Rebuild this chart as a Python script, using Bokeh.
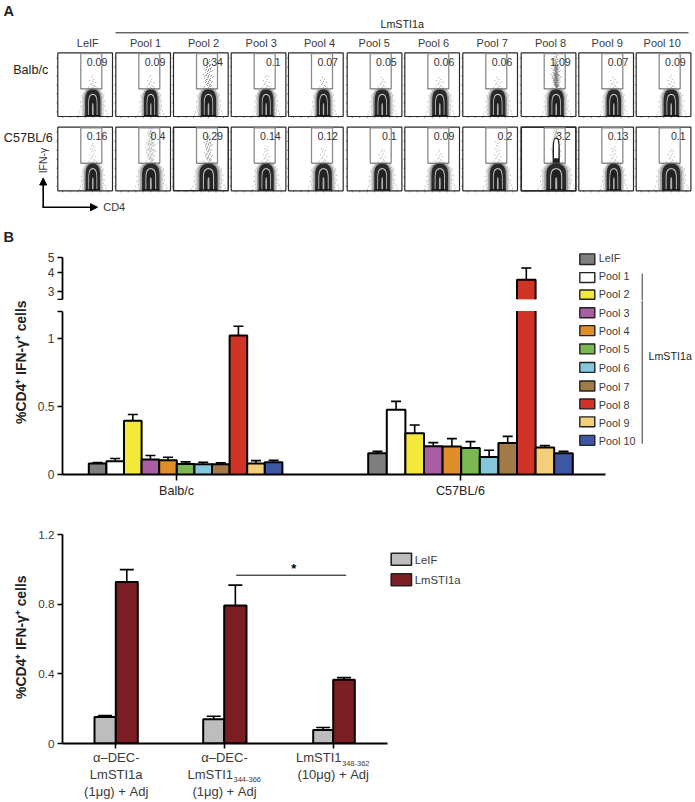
from bokeh.plotting import figure
from bokeh.layouts import column, row
from bokeh.models import (Range1d, Label, FixedTicker, Arrow, NormalHead)
from bokeh.embed import file_html
from bokeh.resources import INLINE

FONT = "Liberation Sans"
INK = "#3a3a3a"

# ---------- data ----------
pool_labels = ["LeIF"] + [f"Pool {i}" for i in range(1, 11)]
flow_balb = ["0.09", "0.09", "0.34", "0.1", "0.07", "0.05", "0.06", "0.06", "1.09", "0.07", "0.09"]
flow_c57 = ["0.16", "0.4", "0.29", "0.14", "0.12", "0.1", "0.09", "0.2", "3.2", "0.13", "0.1"]
contour_width_balb = [1.0, 0.9, 1.0, 0.95, 0.9, 1.0, 1.0, 1.0, 1.0, 0.95, 1.0]
contour_width_c57 = [0.95, 1.15, 1.2, 1.0, 1.1, 1.05, 1.1, 1.05, 1.3, 0.95, 1.2]

bar_colors = ["#7f7f7f", "#ffffff", "#f3e93a", "#a95da3", "#e08e2b", "#7ab851",
              "#83c8dc", "#a17a45", "#cf3427", "#f3cf7a", "#3f56a4"]
balb_mean = [0.08, 0.098, 0.395, 0.11, 0.105, 0.078, 0.076, 0.076, 1.02, 0.08, 0.09]
balb_err = [0.088, 0.117, 0.44, 0.14, 0.127, 0.093, 0.09, 0.085, 1.088, 0.102, 0.105]
c57_mean = [0.156, 0.476, 0.302, 0.207, 0.205, 0.195, 0.129, 0.232, 3.57, 0.198, 0.156]
c57_err = [0.17, 0.537, 0.363, 0.234, 0.263, 0.241, 0.178, 0.28, 4.27, 0.212, 0.17]

c_leif = [0.153, 0.14, 0.077]
c_leif_err = [0.161, 0.157, 0.092]
c_lm = [0.928, 0.794, 0.367]
c_lm_err = [1.0, 0.911, 0.379]
c_colors = ["#bdbdbd", "#7b1e23"]
c_series = ["LeIF", "LmSTI1a"]

# events above the main population (dx from centre, dy above the contour top)
speck = [(0, 2), (1, 4), (-1, 6), (2, 3), (-2, 5), (0, 8), (1, 10), (-1, 12), (3, 7), (-3, 9),
         (0, 14), (2, 13), (-2, 15), (1, 17), (-1, 18), (0, 20), (2, 21), (-2, 22), (3, 18), (-3, 19),
         (1, 24), (-1, 25), (0, 27), (4, 12), (-4, 13), (2, 28), (-2, 29), (1, 30), (-1, 31), (0, 33)]
# events beside the main population (dx, height above the floor)
flank = [(-10, 2), (-11, 6), (-10, 10), (-12, 14), (-10, 18), (-9, 22), (-13, 4), (-11, 20),
         (10, 3), (11, 7), (10, 11), (12, 15), (10, 19), (9, 23), (13, 5), (11, 21),
         (-12, 9), (12, 10), (-14, 1), (14, 2), (-7, 25), (7, 26), (-4, 29), (4, 28)]
arch_x = [1, 1, 1, 0.97, 0.88, 0.72, 0.5, 0.25, 0]
arch_y = [0, 0.4, 0.6, 0.72, 0.83, 0.92, 0.97, 1, 1]

ORIGIN = {}


def txt(p, x, y, s, size, color=INK, align="left", bold=False, angle=0):
    ox, oy = ORIGIN[p.id]
    p.add_layout(Label(x=x - ox, y=y - oy, x_units="canvas", y_units="canvas", text=s, text_font=FONT,
                       text_font_size=f"{size}px", text_color=color,
                       text_align=align, text_baseline="middle", angle=angle, angle_units="deg",
                       text_font_style="bold" if bold else "normal"))


def plain(width, height, x0, y0):
    p = figure(width=width, height=height, x_range=Range1d(x0, x0 + width), y_range=Range1d(y0 + height, y0),
               x_axis_type=None, y_axis_type=None, toolbar_location=None, output_backend="svg", min_border_left=0,
               min_border_right=0, min_border_top=0, min_border_bottom=0, outline_line_color=None)
    p.grid.visible = False
    ORIGIN[p.id] = (x0, y0)
    return p


# ---------- panel A ----------
A = plain(695, 225, 0, 0)
panel_left = [57.3, 115.3, 173, 230.7, 288, 346.7, 404.3, 462.3, 520.7, 578.3, 635.7]
label_cx = [87.3, 145, 203, 260.7, 319, 373.7, 433, 491.7, 550, 606.7, 661.7]
PW = 54.7


def arch(cx, floor, hw, h):
    xs = [cx - hw * a for a in arch_x] + [cx + hw * a for a in reversed(arch_x)]
    ys = [floor - h * b for b in arch_y] + [floor - h * b for b in reversed(arch_y)]
    return xs, ys


def draw_flow(top, values, widths, border_w):
    bottom = top + 63.6
    for i, x0 in enumerate(panel_left):
        cx = x0 + 35
        floor = bottom - 0.5
        w = widths[i]
        val = float(values[i])
        # tiny axis ticks
        tx = [x0 + 5 + 7.5 * k for k in range(7)]
        A.segment(tx, [bottom] * 7, tx, [bottom + 1.5] * 7, line_color="#555", line_width=0.7)
        ty = [top + 5 + 9 * k for k in range(7)]
        A.segment([x0 - 1.5] * 7, ty, [x0] * 7, ty, line_color="#555", line_width=0.7)
        # scatter
        n = min(len(speck), int(round(val * 60)) + 6)
        pts = speck[:n]
        if val > 0.25:
            pts = pts + [(dx + 1, dy + 1) for dx, dy in pts] + [(dx - 1, dy + 2) for dx, dy in pts]
        if val > 1:
            pts = pts + [(dx * 0.7, dy * 0.8) for dx, dy in pts] + [(dx * 0.4, dy * 0.7) for dx, dy in pts]
        ctop = floor - 26.5
        A.scatter([cx + dx for dx, _ in pts], [ctop - dy for _, dy in pts], size=1, marker="square",
                  color="#777777", alpha=0.65, line_color=None)
        A.scatter([cx + dx * w for dx, _ in flank], [floor - dy for _, dy in flank], size=1, marker="square",
                  color="#777777", alpha=0.7, line_color=None)
        # contours
        for hw, h, col, al in [(11, 28, "#c4c4c4", 0.6), (9.2, 27.5, "#7a7a7a", 0.6), (7.6, 26.5, "#2a2a2a", 1),
                               (4.6, 22, "#d8d8d8", 1), (3.9, 21, "#222222", 1), (0.8, 13, "#b0b0b0", 1)]:
            xs, ys = arch(cx, floor, hw * w, h)
            A.patch(xs, ys, fill_color=col, fill_alpha=al, line_color=None)
        A.quad(left=[cx - 7.6 * w], right=[cx + 7.6 * w], top=[floor - 1], bottom=[floor + 0.5], fill_color="#111111",
               line_color=None)
        if val > 3:
            xs, ys = arch(cx, floor - 26, 3.6, 26.5)
            A.patch(xs, ys, fill_color="#222222", line_color=None)
            xs, ys = arch(cx, floor - 32, 2.2, 19.5)
            A.patch(xs, ys, fill_color="#ffffff", line_color=None)
        # frame
        A.quad(left=[x0], right=[x0 + PW], top=[top], bottom=[bottom], fill_color=None,
               line_color="#2a2a2a", line_width=border_w[i])
        # gate
        gl, gr, gb = x0 + 23, x0 + 44, top + 36
        A.multi_line([[gl, gl, gr, gr]], [[gb, top + 0.6, top + 0.6, gb]], line_color="#8a8a8a", line_width=1.3)
        A.line([gl, gr], [gb, gb], line_color="#555555", line_width=1)
        txt(A, x0 + 49.5, top + 9, values[i], 10.6, "#333333", "right")


draw_flow(52.4, flow_balb, contour_width_balb, [1.2] * 11)
draw_flow(126.7, flow_c57, contour_width_c57, [1.2, 1.2, 1.5, 1.2, 1.2, 1.2, 1.2, 1.2, 1.7, 1.2, 1.2])

for cx, lab in zip(label_cx, pool_labels):
    txt(A, cx, 42.7, lab, 11, INK, "center")
A.line([115, 688], [32.3, 32.3], line_color="#222222", line_width=1)
txt(A, 401.7, 23.3, "LmSTI1a", 10.7, "#222222", "center")
txt(A, 47.7, 69, "Balb/c", 12.6, "#222222", "right")
txt(A, 52.3, 137.7, "C57BL/6", 12.6, "#222222", "right")
txt(A, 3, 10, "A", 14.5, "#222222", bold=True)
txt(A, 42.7, 160, "IFN-γ", 10.5, INK, "center", angle=90)
txt(A, 102.7, 206.7, "CD4", 11, INK)
A.add_layout(Arrow(end=NormalHead(size=7, fill_color="black", line_color="black"), x_start=42.7, y_start=206.7,
                   x_end=42.7, y_end=177.5, line_color="black", line_width=1.6))
A.add_layout(Arrow(end=NormalHead(size=7, fill_color="black", line_color="black"), x_start=41.9, y_start=206.7,
                   x_end=97, y_end=206.7, line_color="black", line_width=1.6))

# ---------- panel B ----------
BREAK_LOW, BREAK_HIGH = 1.2, 2.65
strip_B = plain(30, 275, 0, 225)
txt(strip_B, 3, 236, "B", 14.5, "#222222", bold=True)
txt(strip_B, 20, 361.7, "%CD4⁺ IFN-γ⁺ cells", 13.9, "#222222", "center", bold=True, angle=90)

up = figure(width=665, height=75, x_range=Range1d(62, 695), y_range=Range1d(2.605, 6.01), y_axis_type="log",
            x_axis_type=None, toolbar_location=None, output_backend="svg", min_border_left=32, min_border_right=0,
            min_border_top=20, min_border_bottom=0, outline_line_color=None)
up.grid.visible = False
up.extra_y_ranges = {"px": Range1d(300, 245)}
ORIGIN[up.id] = (30, 225)
low = figure(width=665, height=200, x_range=Range1d(62, 695), y_range=Range1d(0, 175 / 137),
             toolbar_location=None, output_backend="svg", min_border_left=32, min_border_right=0,
             min_border_top=0, min_border_bottom=25, outline_line_color=None)
low.grid.visible = False
low.extra_y_ranges = {"px": Range1d(475, 300)}
ORIGIN[low.id] = (30, 300)


def style_axis(ax, size):
    ax.axis_line_color = "black"
    ax.axis_line_width = 1.8
    ax.major_tick_line_color = "black"
    ax.major_tick_line_width = 1.6
    ax.major_tick_out = 5
    ax.major_tick_in = 0
    ax.minor_tick_out = 0
    ax.minor_tick_in = 0
    ax.major_label_text_font = FONT
    ax.major_label_text_font_size = f"{size}px"
    ax.major_label_text_color = INK
    ax.major_label_standoff = 3


up.yaxis.ticker = FixedTicker(ticks=[BREAK_HIGH, 3, 4, 5])
up.yaxis.major_label_overrides = {BREAK_HIGH: "", 3: "3", 4: "4", 5: "5"}
up.yaxis.bounds = (BREAK_HIGH, 5)
style_axis(up.yaxis[0], 12)
low.yaxis.ticker = FixedTicker(ticks=[0, 0.5, 1, BREAK_LOW])
low.yaxis.major_label_overrides = {0: "0", 0.5: "0.5", 1: "1", BREAK_LOW: ""}
low.yaxis.bounds = (0, BREAK_LOW)
style_axis(low.yaxis[0], 12)
low.xaxis.ticker = FixedTicker(ticks=[176, 460])
low.xaxis.major_label_overrides = {176: "Balb/c", 460: "C57BL/6"}
low.xaxis.bounds = (62, 605)
style_axis(low.xaxis[0], 12.6)
low.xaxis.major_label_text_color = "#222222"
low.xaxis.major_tick_out = 6


def bars_B(x0, bw, mean, err):
    lefts = [x0 + i * bw for i in range(len(mean))]
    rights = [l + bw for l in lefts]
    cxs = [l + bw / 2 for l in lefts]
    for fig, lo, hi in [(low, 0, BREAK_LOW), (up, BREAK_HIGH, None)]:
        idx = [i for i in range(len(mean)) if (hi is None and err[i] > BREAK_HIGH) or hi is not None]
        if not idx:
            continue
        ex = [cxs[i] for i in idx if hi is None or err[i] <= hi]
        ey0 = [mean[i] for i in idx if hi is None or err[i] <= hi]
        ey1 = [err[i] for i in idx if hi is None or err[i] <= hi]
        if ex:
            fig.segment(ex, ey0, ex, ey1, line_color="black", line_width=1.6)
            fig.segment([c - 5 for c in ex], ey1, [c + 5 for c in ex], ey1, line_color="black", line_width=1.6)
        for i in idx:
            top = mean[i] if hi is None else min(mean[i], hi)
            broken_top = hi is not None and mean[i] > hi
            fig.quad(left=[lefts[i]], right=[rights[i]], bottom=[lo], top=[top], fill_color=bar_colors[i],
                     line_color=None)
            if broken_top:
                fig.multi_line([[lefts[i], lefts[i]], [rights[i], rights[i]]], [[lo, top], [lo, top]],
                               line_color="black", line_width=2)
            else:
                fig.line([lefts[i], lefts[i], rights[i], rights[i]], [lo, top, top, lo], line_color="black",
                         line_width=2)


bars_B(88.3, 17.6, balb_mean, balb_err)
bars_B(367.7, 18.6, c57_mean, c57_err)

legend_y = [257.7, 275.7, 293.7, 312.3, 330.3, 348.7, 367.3, 386, 404, 422, 440.7]
for i, lab in enumerate(pool_labels):
    y = legend_y[i]
    fig = up if i < 3 else low
    fig.quad(left=[579.3], right=[594.3], top=[y - 5], bottom=[y + 5], fill_color=bar_colors[i],
             line_color="#222222", line_width=1.4, y_range_name="px")
    txt(fig, 598.3, y, lab, 10.8, INK)
up.line([641.7, 641.7], [271.7, 300], line_color="#333333", line_width=1, y_range_name="px")
low.line([641.7, 641.7], [300, 444], line_color="#333333", line_width=1, y_range_name="px")
txt(low, 648, 355.7, "LmSTI1a", 10.7, "#222222")

# ---------- panel C ----------
strip_C = plain(30, 251, 0, 500)
txt(strip_C, 3, 514, "C", 14.5, "#222222", bold=True)
txt(strip_C, 20, 636.7, "%CD4⁺ IFN-γ⁺ cells", 13.9, "#222222", "center", bold=True, angle=90)
C = figure(width=665, height=251, x_range=Range1d(62, 695), y_range=Range1d(0, 223 / 173.9),
           toolbar_location=None, output_backend="svg", min_border_left=32, min_border_right=0,
           min_border_top=20, min_border_bottom=8, outline_line_color=None)
C.grid.visible = False
C.extra_y_ranges = {"px": Range1d(743, 520)}
ORIGIN[C.id] = (30, 500)
C.yaxis.ticker = FixedTicker(ticks=[0, 0.4, 0.8, 1.2])
C.yaxis.major_label_overrides = {0: "0", 0.4: "0.4", 0.8: "0.8", 1.2: "1.2"}
C.yaxis.bounds = (0, 1.2)
style_axis(C.yaxis[0], 11.7)
c_ticks = [115.3, 224, 332.7]
C.xaxis.ticker = FixedTicker(ticks=c_ticks)
C.xaxis.major_label_overrides = {t: "" for t in c_ticks}
C.xaxis.bounds = (62, 386.7)
style_axis(C.xaxis[0], 1)
C.xaxis.major_label_standoff = 0
C.xaxis.major_tick_out = 5

c_left = [94, 202.7, 312.7]
c_mid = [115.3, 223.7, 332.7]
c_right = [137.3, 246, 354.3]
for k in range(3):
    for l, r, m, e, col in [(c_left[k], c_mid[k], c_leif[k], c_leif_err[k], c_colors[0]),
                            (c_mid[k], c_right[k], c_lm[k], c_lm_err[k], c_colors[1])]:
        cx = (l + r) / 2
        C.segment([cx], [m], [cx], [e], line_color="black", line_width=1.6)
        C.segment([cx - 7], [e], [cx + 7], [e], line_color="black", line_width=1.6)
        C.quad(left=[l], right=[r], bottom=[0], top=[m], fill_color=col, line_color="black", line_width=2)

for y, col, lab in [(558.8, c_colors[0], c_series[0]), (579.2, c_colors[1], c_series[1])]:
    C.quad(left=[390.7], right=[411], top=[y - 6], bottom=[y + 6], fill_color=col, line_color="#222222",
           line_width=1.6, y_range_name="px")
    txt(C, 414.3, y + 0.3, lab, 11.3, INK)
C.line([235.7, 345.7], [574.7, 574.7], line_color="black", line_width=1, y_range_name="px")
txt(C, 293.3, 567.5, "*", 13, "black", "center", bold=True)

# group captions under panel C
foot = plain(695, 51, 0, 751)
LM = 13
for x, y, s in [(115.7, 757.3, "α–DEC-"), (115.7, 774, "LmSTI1a"), (115.7, 790.7, "(1μg) + Adj"),
                (224, 757.3, "α–DEC-"), (224, 790.7, "(1μg) + Adj"), (332.7, 774, "(10μg) + Adj")]:
    txt(foot, x, y, s, LM, INK, "center")
txt(foot, 187, 774, "LmSTI1", LM, INK)
txt(foot, 233, 779, "344-366", 7.5, INK)
txt(foot, 295.5, 757.3, "LmSTI1", LM, INK)
txt(foot, 341.5, 762.5, "348-362", 7.5, INK)

page = column(row(A), row(strip_B, column(up, low, spacing=0), spacing=0), row(strip_C, C, spacing=0), row(foot),
              spacing=0)
open("out.html", "w").write(file_html(page, INLINE))
